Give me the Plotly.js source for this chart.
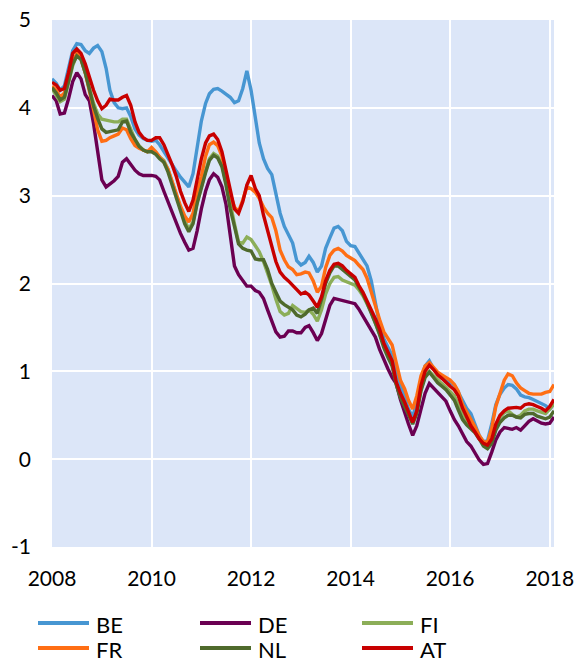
<!DOCTYPE html>
<html>
<head>
<meta charset="utf-8">
<script src="https://cdn.plot.ly/plotly-3.0.1.min.js"></script>
<style>
  html, body { margin: 0; padding: 0; background: #ffffff; }
  #chart { width: 575px; height: 662px; }
</style>
</head>
<body>
<div id="chart"></div>
<script>
// Monthly observations, Jan 2008 .. Feb 2018
const startYear = 2008;
const nMonths = 122;

const BE = [
  4.33, 4.28, 4.20, 4.25, 4.45, 4.65, 4.73, 4.72, 4.65, 4.62, 4.68, 4.71,
  4.64, 4.45, 4.20, 4.06, 4.00, 3.99, 4.00, 3.90, 3.76, 3.69, 3.65, 3.63,
  3.62, 3.63, 3.58, 3.50, 3.43, 3.36, 3.28, 3.21, 3.15, 3.10, 3.25, 3.55,
  3.85, 4.05, 4.16, 4.21, 4.22, 4.19, 4.16, 4.12, 4.06, 4.08, 4.22, 4.42,
  4.20, 3.90, 3.60, 3.42, 3.31, 3.24, 3.02, 2.80, 2.65, 2.55, 2.46, 2.26,
  2.21, 2.24, 2.31, 2.24, 2.13, 2.20, 2.40, 2.52, 2.63, 2.65, 2.60, 2.48,
  2.43, 2.42, 2.35, 2.29, 2.20, 2.03, 1.77, 1.53, 1.37, 1.28, 1.18, 1.00,
  0.85, 0.70, 0.57, 0.48, 0.65, 0.90, 1.06, 1.12, 1.03, 0.97, 0.94, 0.91,
  0.88, 0.84, 0.76, 0.67, 0.58, 0.52, 0.39, 0.27, 0.20, 0.21, 0.40, 0.62,
  0.74, 0.81, 0.85, 0.84, 0.80, 0.73, 0.71, 0.70, 0.68, 0.66, 0.63, 0.61,
  0.57, 0.63
];
const DE = [
  4.14, 4.08, 3.93, 3.94, 4.10, 4.30, 4.40, 4.33, 4.15, 4.08, 3.82, 3.47,
  3.18, 3.10, 3.13, 3.17, 3.22, 3.38, 3.42, 3.35, 3.29, 3.25, 3.23, 3.23,
  3.23, 3.22, 3.18, 3.05, 2.93, 2.80, 2.67, 2.57, 2.47, 2.38, 2.40, 2.60,
  2.85, 3.05, 3.18, 3.25, 3.21, 3.10, 2.90, 2.55, 2.20, 2.10, 2.04, 1.97,
  1.97, 1.92, 1.90, 1.83, 1.70, 1.57, 1.45, 1.39, 1.40, 1.46, 1.46, 1.44,
  1.44, 1.50, 1.52, 1.44, 1.35, 1.43, 1.60, 1.75, 1.83, 1.82, 1.80, 1.79,
  1.78, 1.77, 1.71, 1.63, 1.55, 1.47, 1.39, 1.25, 1.13, 1.03, 0.93, 0.86,
  0.68, 0.52, 0.40, 0.27, 0.38, 0.57, 0.75, 0.86, 0.81, 0.75, 0.71, 0.66,
  0.55, 0.45, 0.38, 0.28, 0.20, 0.15, 0.07, -0.01, -0.06, -0.05, 0.08, 0.22,
  0.31, 0.36, 0.35, 0.34, 0.36, 0.33, 0.38, 0.43, 0.46, 0.43, 0.41, 0.40,
  0.41, 0.48
];
const FI = [
  4.22, 4.15, 4.07, 4.10, 4.28, 4.48, 4.60, 4.55, 4.40, 4.22, 4.05, 3.93,
  3.87, 3.86, 3.85, 3.84, 3.84, 3.87, 3.87, 3.76, 3.64, 3.57, 3.52, 3.50,
  3.52, 3.49, 3.44, 3.40, 3.30, 3.15, 3.00, 2.85, 2.71, 2.62, 2.70, 2.93,
  3.12, 3.28, 3.42, 3.48, 3.45, 3.35, 3.15, 2.90, 2.68, 2.47, 2.46, 2.53,
  2.50, 2.43, 2.36, 2.25, 2.12, 1.98, 1.82, 1.68, 1.64, 1.66, 1.75, 1.72,
  1.68, 1.67, 1.70, 1.65, 1.57, 1.70, 1.88, 2.00, 2.07, 2.08, 2.04, 2.02,
  2.00, 1.98, 1.93, 1.86, 1.77, 1.67, 1.55, 1.42, 1.28, 1.18, 1.08, 0.88,
  0.72, 0.62, 0.52, 0.42, 0.53, 0.80, 0.95, 1.00, 0.95, 0.90, 0.86, 0.82,
  0.77, 0.72, 0.62, 0.50, 0.43, 0.38, 0.32, 0.25, 0.17, 0.14, 0.22, 0.37,
  0.48, 0.53, 0.55, 0.51, 0.48, 0.50, 0.55, 0.57, 0.57, 0.55, 0.53, 0.52,
  0.57, 0.63
];
const FR = [
  4.25, 4.20, 4.12, 4.17, 4.35, 4.52, 4.62, 4.56, 4.40, 4.20, 3.98, 3.75,
  3.62, 3.63, 3.66, 3.68, 3.70, 3.77, 3.75, 3.65, 3.57, 3.54, 3.52, 3.50,
  3.55, 3.50, 3.44, 3.38, 3.30, 3.15, 3.00, 2.88, 2.77, 2.70, 2.80, 3.05,
  3.22, 3.45, 3.58, 3.61, 3.57, 3.45, 3.25, 3.02, 2.87, 2.82, 2.95, 3.10,
  3.08, 3.04, 2.97, 2.87, 2.80, 2.75, 2.60, 2.38, 2.27, 2.19, 2.16, 2.10,
  2.11, 2.13, 2.12, 2.03, 1.90, 1.97, 2.18, 2.32, 2.38, 2.40, 2.37, 2.32,
  2.29, 2.26, 2.21, 2.16, 2.06, 1.90, 1.73, 1.59, 1.45, 1.37, 1.30, 1.10,
  0.90, 0.80, 0.67, 0.57, 0.72, 0.95, 1.06, 1.10, 1.05, 0.99, 0.96, 0.93,
  0.90, 0.85, 0.77, 0.62, 0.54, 0.46, 0.37, 0.27, 0.20, 0.19, 0.35, 0.60,
  0.76, 0.90, 0.97, 0.95, 0.87, 0.81, 0.78, 0.75, 0.74, 0.74, 0.74, 0.76,
  0.77, 0.85
];
const NL = [
  4.23, 4.17, 4.09, 4.12, 4.30, 4.50, 4.59, 4.55, 4.40, 4.20, 4.02, 3.88,
  3.76, 3.72, 3.73, 3.74, 3.75, 3.84, 3.85, 3.72, 3.63, 3.56, 3.52, 3.50,
  3.50, 3.47, 3.42, 3.38, 3.27, 3.12, 2.97, 2.82, 2.68, 2.59, 2.68, 2.91,
  3.10, 3.26, 3.40, 3.46, 3.43, 3.33, 3.12, 2.85, 2.65, 2.45, 2.40, 2.38,
  2.37, 2.28, 2.27, 2.27, 2.16, 2.00, 1.90, 1.80, 1.76, 1.73, 1.70, 1.64,
  1.62, 1.65, 1.70, 1.72, 1.66, 1.82, 2.00, 2.12, 2.20, 2.20, 2.16, 2.12,
  2.08, 2.04, 1.96, 1.88, 1.78, 1.67, 1.55, 1.42, 1.27, 1.16, 1.06, 0.85,
  0.70, 0.60, 0.50, 0.40, 0.52, 0.78, 0.93, 0.99, 0.93, 0.87, 0.83, 0.79,
  0.73, 0.67, 0.56, 0.45, 0.39, 0.35, 0.30, 0.23, 0.15, 0.12, 0.18, 0.33,
  0.42, 0.47, 0.50, 0.50, 0.48, 0.47, 0.51, 0.52, 0.52, 0.49, 0.47, 0.46,
  0.48, 0.55
];
const AT = [
  4.29, 4.26, 4.20, 4.22, 4.40, 4.62, 4.67, 4.62, 4.50, 4.35, 4.20, 4.08,
  3.99, 4.03, 4.10, 4.09, 4.09, 4.12, 4.14, 4.03, 3.84, 3.72, 3.66, 3.63,
  3.63, 3.66, 3.66, 3.58, 3.47, 3.35, 3.22, 3.05, 2.92, 2.82, 2.95, 3.18,
  3.42, 3.60, 3.68, 3.70, 3.64, 3.50, 3.30, 3.07, 2.85, 2.80, 2.93, 3.12,
  3.23, 3.08, 3.00, 2.78, 2.60, 2.45, 2.25, 2.13, 2.07, 2.03, 1.98, 1.93,
  1.88, 1.90, 1.87, 1.80, 1.73, 1.85, 2.03, 2.15, 2.22, 2.23, 2.20, 2.15,
  2.11, 2.07, 1.98, 1.90, 1.80, 1.70, 1.60, 1.48, 1.32, 1.22, 1.12, 0.88,
  0.75, 0.65, 0.54, 0.42, 0.55, 0.84, 1.00, 1.07, 1.02, 0.96, 0.92, 0.87,
  0.83, 0.79, 0.72, 0.58, 0.47, 0.38, 0.31, 0.23, 0.18, 0.16, 0.23, 0.40,
  0.50, 0.55, 0.58, 0.59, 0.59, 0.58, 0.62, 0.63, 0.62, 0.60, 0.58, 0.55,
  0.60, 0.68
];

const seriesNames = ['BE', 'DE', 'FI', 'FR', 'NL', 'AT'];
const seriesData = [BE, DE, FI, FR, NL, AT];
const seriesColors = ['#4796d2', '#6b0052', '#8cae58', '#ff6e14', '#4f6a2c', '#c80000'];
const yTicks = [-1, 0, 1, 2, 3, 4, 5];

const months = [];
for (let i = 0; i < nMonths; i++) {
  const y = startYear + Math.floor(i / 12);
  const m = (i % 12) + 1;
  months.push(y + '-' + String(m).padStart(2, '0') + '-01');
}

const FONT = 'Lato, "Open Sans", "DejaVu Sans", sans-serif';

const W = 575, H = 662;
const M = { l: 52, r: 21, t: 20, b: 115 };
const plotW = W - M.l - M.r;
const plotH = H - M.t - M.b;
// pixel -> paper helpers for the hand-placed legend
const px2x = (px) => (px - M.l) / plotW;
const py2y = (py) => (H - M.b - py) / plotH;

const traces = seriesNames.map((name, k) => ({
  type: 'scatter',
  mode: 'lines',
  name: name,
  x: months,
  y: seriesData[k],
  line: { color: seriesColors[k], width: 3.4, shape: 'linear' },
  hoverinfo: 'skip',
  showlegend: false
}));

// legend: 3 columns x 2 rows, row-major in trace order
const legCols = [38, 200, 362];
const legRows = [623, 648];
const shapes = [];
const annotations = [];
seriesNames.forEach((name, k) => {
  const c = k % 3, r = Math.floor(k / 3);
  const x0 = legCols[c], y0 = legRows[r];
  shapes.push({
    type: 'line', xref: 'paper', yref: 'paper',
    x0: px2x(x0), x1: px2x(x0 + 51), y0: py2y(y0), y1: py2y(y0),
    line: { color: seriesColors[k], width: 4 }
  });
  annotations.push({
    xref: 'paper', yref: 'paper',
    x: px2x(x0 + 56), y: py2y(y0 + 1),
    xanchor: 'left', yanchor: 'middle',
    text: name, showarrow: false,
    font: { family: FONT, size: 22, color: '#000000' }
  });
});

const layout = {
  width: W,
  height: H,
  margin: M,
  paper_bgcolor: '#ffffff',
  plot_bgcolor: '#dce6f8',
  font: { family: FONT, size: 21, color: '#000000' },
  showlegend: false,
  shapes: shapes,
  annotations: annotations,
  xaxis: {
    type: 'date',
    range: ['2008-01-01', '2018-02-01'],
    tick0: '2008-01-01',
    dtick: 'M24',
    tickformat: '%Y',
    showgrid: true,
    gridcolor: '#ffffff',
    gridwidth: 2,
    zeroline: false,
    showline: false,
    ticks: '',
    ticklabelstandoff: 17,
    tickfont: { family: FONT, size: 21, color: '#000000' },
    fixedrange: true
  },
  yaxis: {
    range: [-1, 5],
    tickvals: yTicks,
    ticktext: yTicks.map(String),
    showgrid: true,
    gridcolor: '#ffffff',
    gridwidth: 2,
    zeroline: false,
    showline: false,
    ticks: '',
    ticklabelstandoff: 20,
    tickfont: { family: FONT, size: 21, color: '#000000' },
    fixedrange: true
  }
};

Plotly.newPlot('chart', traces, layout, { displayModeBar: false, staticPlot: true });
</script>
</body>
</html>
